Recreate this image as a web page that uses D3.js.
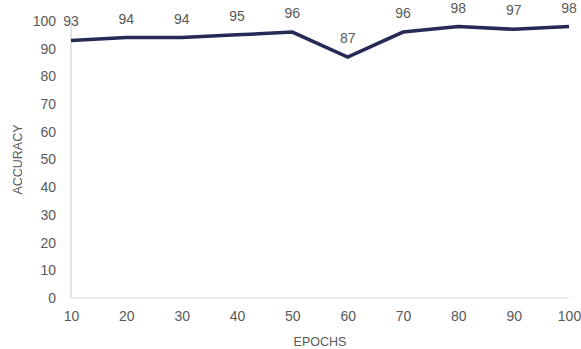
<!DOCTYPE html>
<html>
<head>
<meta charset="utf-8">
<script src="https://cdn.jsdelivr.net/npm/d3@7/dist/d3.min.js"></script>
<style>
  html, body { margin: 0; padding: 0; background: #ffffff; }
  svg { display: block; }
  text { font-family: "Liberation Sans", "DejaVu Sans", sans-serif; fill: #595959; }
</style>
</head>
<body>
<svg id="chart" width="581" height="349"></svg>
<script>
// Accuracy per training epoch
const epochs = [10, 20, 30, 40, 50, 60, 70, 80, 90, 100];
const accuracy = [93, 94, 94, 95, 96, 87, 96, 98, 97, 98];
const yTicks = [0, 10, 20, 30, 40, 50, 60, 70, 80, 90, 100];

const svg = d3.select("#chart");
const margin = { left: 71, right: 12, top: 21, bottom: 51 };
const width = 581, height = 349;

const x = d3.scalePoint()
  .domain(epochs)
  .range([margin.left, width - margin.right]);

const y = d3.scaleLinear()
  .domain([0, 100])
  .range([height - margin.bottom, margin.top]);

// Axis lines
svg.append("line")
  .attr("x1", margin.left).attr("x2", margin.left)
  .attr("y1", y(100)).attr("y2", y(0))
  .attr("stroke", "#c8c8c8").attr("stroke-width", 1);
svg.append("line")
  .attr("x1", margin.left).attr("x2", width - margin.right)
  .attr("y1", y(0)).attr("y2", y(0))
  .attr("stroke", "#d9d9d9").attr("stroke-width", 1);

// Y axis tick labels
const yAxis = d3.axisLeft(y).tickValues(yTicks).tickSize(0).tickPadding(15);
const gy = svg.append("g").attr("transform", `translate(${margin.left},0)`).call(yAxis);
gy.select(".domain").remove();
gy.selectAll("text").style("font-size", "14px").attr("fill", "#595959");

// X axis tick labels
const xAxis = d3.axisBottom(x).tickSize(0).tickPadding(13);
const gx = svg.append("g").attr("transform", `translate(0,${y(0)})`).call(xAxis);
gx.select(".domain").remove();
gx.selectAll("text").style("font-size", "14px").attr("fill", "#595959");

// Axis titles
svg.append("text")
  .attr("x", (margin.left + width - margin.right) / 2)
  .attr("y", 346)
  .attr("text-anchor", "middle")
  .style("font-size", "12.5px")
  .text("EPOCHS");
svg.append("text")
  .attr("transform", `translate(22,${(y(0) + y(100)) / 2}) rotate(-90)`)
  .attr("text-anchor", "middle")
  .style("font-size", "12.5px")
  .text("ACCURACY");

const data = epochs.map((e, i) => ({ epoch: e, value: accuracy[i] }));

// Accuracy line
svg.append("path")
  .datum(data)
  .attr("fill", "none")
  .attr("stroke", "#262a56")
  .attr("stroke-width", 3.5)
  .attr("stroke-linejoin", "miter")
  .attr("d", d3.line().x(d => x(d.epoch)).y(d => y(d.value)));

// Data labels
svg.append("g").selectAll("text")
  .data(data)
  .join("text")
  .attr("x", d => x(d.epoch))
  .attr("y", d => y(d.value) - 14)
  .attr("text-anchor", "middle")
  .style("font-size", "14px")
  .attr("fill", "#404040")
  .text(d => d.value);
</script>
</body>
</html>
